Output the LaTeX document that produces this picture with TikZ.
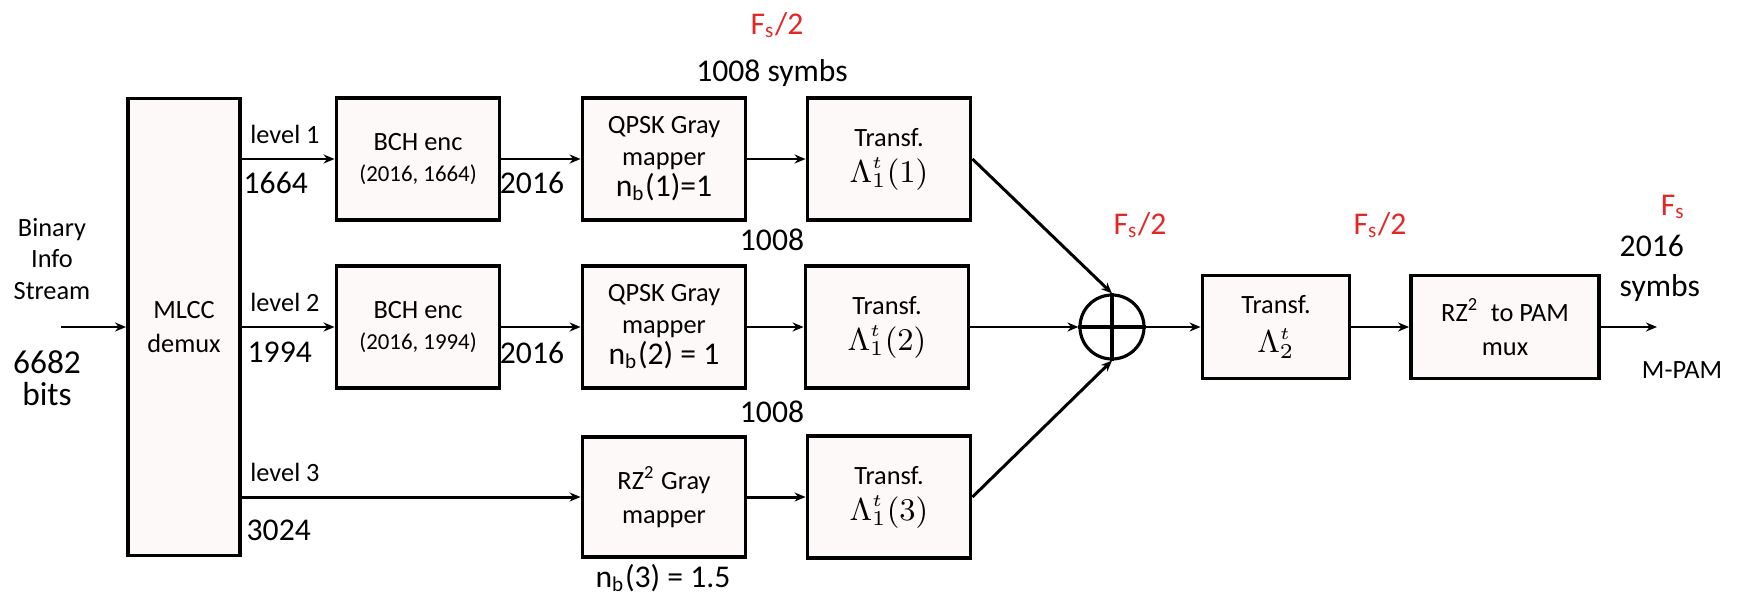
\documentclass[tikz,border=0pt]{standalone}
\usepackage{fontspec}
\setmainfont{Carlito}
\usetikzlibrary{arrows.meta,calc}

\definecolor{fsred}{RGB}{228,38,36}
\definecolor{boxfill}{RGB}{254,249,249}
\newcommand{\txtsmall}{\fontsize{7.5}{9}\selectfont}
\newcommand{\txttiny}{\fontsize{6.5}{8}\selectfont}
\newcommand{\txtnum}{\fontsize{9}{10.5}\selectfont}
\newcommand{\lam}[2]{\txtnum$\Lambda^{\scriptscriptstyle t}_{#1}#2$}

\begin{document}
\begin{tikzpicture}[x=0.1mm, y=-0.1mm,
    blk/.style={draw, line width=1.1pt, fill=boxfill, minimum width=16.3mm, minimum height=12.2mm, align=center, inner sep=0pt, font=\txtsmall},
    sig/.style={-{Stealth[length=1.1mm, width=0.9mm]}, line width=0.85pt},
    lbl/.style={inner sep=0pt, align=center, font=\txtsmall},
    num/.style={inner sep=0pt, align=center, font=\txtnum},
    rate/.style={inner sep=0pt, font=\txtnum, text=fsred}]

    \useasboundingbox (0,0) rectangle (1739,594);

    % blocks
    \node[blk, minimum width=11.2mm, minimum height=45.7mm] (mlcc) at (184,327) {MLCC\\[0.7pt]demux};
    \node[blk] (bch1)  at (418,159) {BCH enc\\{\txttiny (2016, 1664)}};
    \node[blk] (bch2)  at (418,327) {BCH enc\\{\txttiny (2016, 1994)}};
    \node[blk] (qpsk1) at (664,159) {QPSK Gray\\mapper\\{\txtnum n\textsubscript{b}(1)=1}};
    \node[blk] (qpsk2) at (664,327) {QPSK Gray\\mapper\\{\txtnum n\textsubscript{b}(2) = 1}};
    \node[blk, minimum height=12mm] (rzmap) at (664,497) {RZ\textsuperscript{2} Gray\\[0.7pt]mapper};
    \node[blk] (tr1) at (889,159) {Transf.\\[1.2pt]{\lam{1}{(1)}}};
    \node[blk] (tr2) at (887,327) {Transf.\\[1.2pt]{\lam{1}{(2)}}};
    \node[blk] (tr3) at (889,497) {Transf.\\[1.2pt]{\lam{1}{(3)}}};
    \node[draw, circle, line width=0.9pt, minimum size=6.4mm, inner sep=0pt] (sum) at (1112,327) {};
    \draw[line width=0.9pt] (sum.north) -- (sum.south) (sum.west) -- (sum.east);
    \node[blk, minimum width=14.7mm, minimum height=10.3mm] (tr4) at (1276,327) {Transf.\\[2pt]{\lam{2}{}}};
    \node[blk, minimum width=18.8mm, minimum height=10.3mm] (mux) at (1505,327) {RZ\textsuperscript{2}\ \ to PAM\\[0.7pt]mux};

    \coordinate (in)  at (61,327);
    \coordinate (out) at (1657,327);

    % connectors
    \draw[sig] (in) -- (mlcc);
    \draw[sig] (mlcc.east |- bch1)  -- (bch1);
    \draw[sig] (mlcc.east |- bch2)  -- (bch2);
    \draw[sig] (mlcc.east |- rzmap) -- (rzmap);
    \draw[sig] (bch1)  -- (qpsk1);
    \draw[sig] (bch2)  -- (qpsk2);
    \draw[sig] (qpsk1) -- (tr1);
    \draw[sig] (qpsk2) -- (tr2);
    \draw[sig] (rzmap) -- (tr3);
    \draw[sig] (tr1.east) -- (sum.north);
    \draw[sig] (tr2) -- (sum);
    \draw[sig] (tr3.east) -- (sum.south);
    \draw[sig] (sum) -- (tr4);
    \draw[sig] (tr4) -- (mux);
    \draw[sig] (mux) -- (out);

    % labels
    \node[lbl] (binlbl) at (52,259) {Binary\\Info\\Stream};
    \node[num, font=\fontsize{9.5}{9.2}\selectfont] (bitslbl) at (47,378) {6682\\bits};
    \node[lbl] (lvl1) at (285,134) {level 1};
    \node[lbl] (lvl2) at (285,302) {level 2};
    \node[lbl] (lvl3) at (285,472) {level 3};
    \node[num, anchor=west] (n1664) at (243,183) {1664};
    \node[num, anchor=west] (n1994) at (247,352) {1994};
    \node[num, anchor=west] (n3024) at (246,530) {3024};
    \node[num] (n2016a) at (532,183) {2016};
    \node[num] (n2016b) at (532,353) {2016};
    \node[num] (sym1008) at (772,73) {1008 symbs};
    \node[num] (n1008a) at (772,240) {1008};
    \node[num] (n1008b) at (772,412) {1008};
    \node[num] (nb3) at (663,578) {n\textsubscript{b}(3) = 1.5};
    \node[rate] (fsa) at (777,25)   {F\textsubscript{s}/2};
    \node[rate] (fsb) at (1140,225) {F\textsubscript{s}/2};
    \node[rate] (fsc) at (1380,225) {F\textsubscript{s}/2};
    \node[rate] (fsd) at (1673,207) {F\textsubscript{s}};
    \node[num, align=left, anchor=west, font=\fontsize{9}{11.4}\selectfont] (outsym) at (1619,268) {2016\\symbs};
    \node[lbl] (mpam) at (1682,370) {M-PAM};

\end{tikzpicture}
\end{document}
